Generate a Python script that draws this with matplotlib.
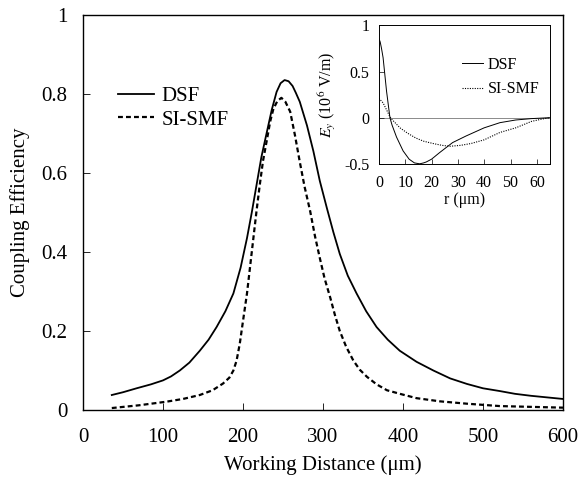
import matplotlib
matplotlib.use("Agg")
import matplotlib.pyplot as plt

plt.rcParams['font.family'] = ['Liberation Serif', 'DejaVu Serif']
plt.rcParams['mathtext.fontset'] = 'stix'

# Main plot data: coupling efficiency vs working distance (um)
dsf_x = [36, 50, 67, 85, 100, 110, 121, 133, 146, 157, 167, 178, 188, 197, 205, 211, 217,
         223, 230, 236, 242, 247, 252, 257, 262, 266, 271, 280, 288, 296, 305, 313, 321,
         331, 342, 354, 367, 381, 396, 417, 438, 459, 480, 500, 521, 540, 560, 580, 600]
dsf_y = [0.038, 0.045, 0.055, 0.065, 0.075, 0.085, 0.10, 0.12, 0.15, 0.178, 0.21, 0.25,
         0.295, 0.36, 0.435, 0.50, 0.57, 0.64, 0.705, 0.76, 0.805, 0.827, 0.835, 0.832,
         0.82, 0.803, 0.78, 0.72, 0.655, 0.58, 0.51, 0.45, 0.395, 0.34, 0.295, 0.25, 0.21,
         0.178, 0.15, 0.122, 0.10, 0.08, 0.066, 0.055, 0.048, 0.041, 0.036, 0.032, 0.028]
smf_x = [36, 70, 104, 125, 146, 162, 175, 183, 188, 192, 196, 200, 205, 209, 213, 217,
         221, 225, 230, 234, 238, 243, 248, 253, 259, 265, 271, 277, 284, 290, 296, 302,
         309, 315, 321, 329, 338, 346, 355, 367, 380, 398, 417, 446, 480, 521, 560, 600]
smf_y = [0.005, 0.012, 0.021, 0.028, 0.038, 0.05, 0.067, 0.082, 0.10, 0.125, 0.168, 0.225,
         0.295, 0.365, 0.435, 0.505, 0.57, 0.63, 0.685, 0.73, 0.762, 0.782, 0.79, 0.78,
         0.755, 0.695, 0.628, 0.565, 0.503, 0.44, 0.385, 0.333, 0.285, 0.24, 0.20, 0.16,
         0.125, 0.102, 0.084, 0.065, 0.05, 0.04, 0.03, 0.022, 0.016, 0.01, 0.008, 0.006]

# Inset data: field profile Ey vs r (um)
in_dsf_r = [0, 0.5, 1, 1.6, 2.9, 4.2, 5, 6.7, 9.2, 11.5, 13.5, 15.5, 17, 18, 20, 23,
            28, 33, 40, 46, 52, 58, 65]
in_dsf_e = [0.86, 0.82, 0.75, 0.65, 0.29, 0.0, -0.08, -0.21, -0.36, -0.45, -0.49, -0.5,
            -0.49, -0.48, -0.45, -0.38, -0.27, -0.2, -0.11, -0.054, -0.025, -0.01, 0.0]
in_smf_r = [0, 1.6, 3, 4.2, 5, 8, 11, 14, 17, 20.6, 24, 27, 31, 35, 40, 46, 52, 58, 62, 65]
in_smf_e = [0.21, 0.16, 0.08, 0.01, -0.02, -0.11, -0.17, -0.22, -0.255, -0.28, -0.3,
            -0.31, -0.3, -0.28, -0.24, -0.16, -0.11, -0.04, -0.015, 0.0]

main_yticks = [0, 0.2, 0.4, 0.6, 0.8, 1]
main_yticklabels = ['0', '0.2', '0.4', '0.6', '0.8', '1']
main_xticks = [0, 100, 200, 300, 400, 500, 600]
in_xticks = [0, 10, 20, 30, 40, 50, 60]
in_yticks = [-0.5, 0, 0.5, 1]
in_yticklabels = ['-0.5', '0', '0.5', '1']

fig = plt.figure(figsize=(5.82, 4.79), dpi=100)
ax = fig.add_axes([0.1426, 0.144, 0.8247, 0.825])
ax.plot(dsf_x, dsf_y, color='black', lw=1.3, label='DSF')
ax.plot(smf_x, smf_y, color='black', lw=1.6, ls=(0, (2.2, 1.4)), label='SI-SMF')
ax.set_xlim(0, 600)
ax.set_ylim(0, 1)
ax.set_xticks(main_xticks)
ax.set_yticks(main_yticks)
ax.set_yticklabels(main_yticklabels)
ax.tick_params(direction='in', length=5, width=0.6, labelsize=15)
ax.tick_params(axis='y', pad=11)
ax.tick_params(axis='x', pad=13)
ax.set_xlabel('Working Distance (\u03bcm)', fontsize=15, labelpad=6)
ax.set_ylabel('Coupling Efficiency', fontsize=15, labelpad=8)
for s in ax.spines.values():
    s.set_linewidth(1.0)
ax.legend(loc='upper left', bbox_to_anchor=(0.055, 0.84), frameon=False,
          fontsize=15, handlelength=1.75, handletextpad=0.35, labelspacing=0.2,
          borderaxespad=0)

# Inset
ins = fig.add_axes([0.651, 0.658, 0.294, 0.289])
ins.plot(in_dsf_r, in_dsf_e, color='black', lw=0.7, label='DSF')
ins.plot(in_smf_r, in_smf_e, color='black', lw=0.8, ls=(0, (1, 1.2)), label='SI-SMF')
ins.axhline(0, color='#777777', lw=0.6, zorder=0)
ins.set_xlim(0, 65)
ins.set_ylim(-0.5, 1)
ins.set_xticks(in_xticks)
ins.set_yticks(in_yticks)
ins.set_yticklabels(in_yticklabels)
ins.tick_params(direction='in', length=3.5, width=0.5, labelsize=11.5)
ins.tick_params(axis='y', pad=7)
ins.tick_params(axis='x', pad=8)
for s in ins.spines.values():
    s.set_linewidth(0.7)
ins.set_xlabel('r (\u03bcm)', fontsize=11.5, labelpad=1)
ins.set_ylabel(r'$E_y$ (10$^6$ V/m)', fontsize=11.5, labelpad=4)
ins.legend(loc='upper left', bbox_to_anchor=(0.45, 0.82), frameon=False, fontsize=11.5,
           handlelength=1.3, handletextpad=0.3, labelspacing=0.55, borderaxespad=0)

fig.savefig('out.png', dpi=100)
